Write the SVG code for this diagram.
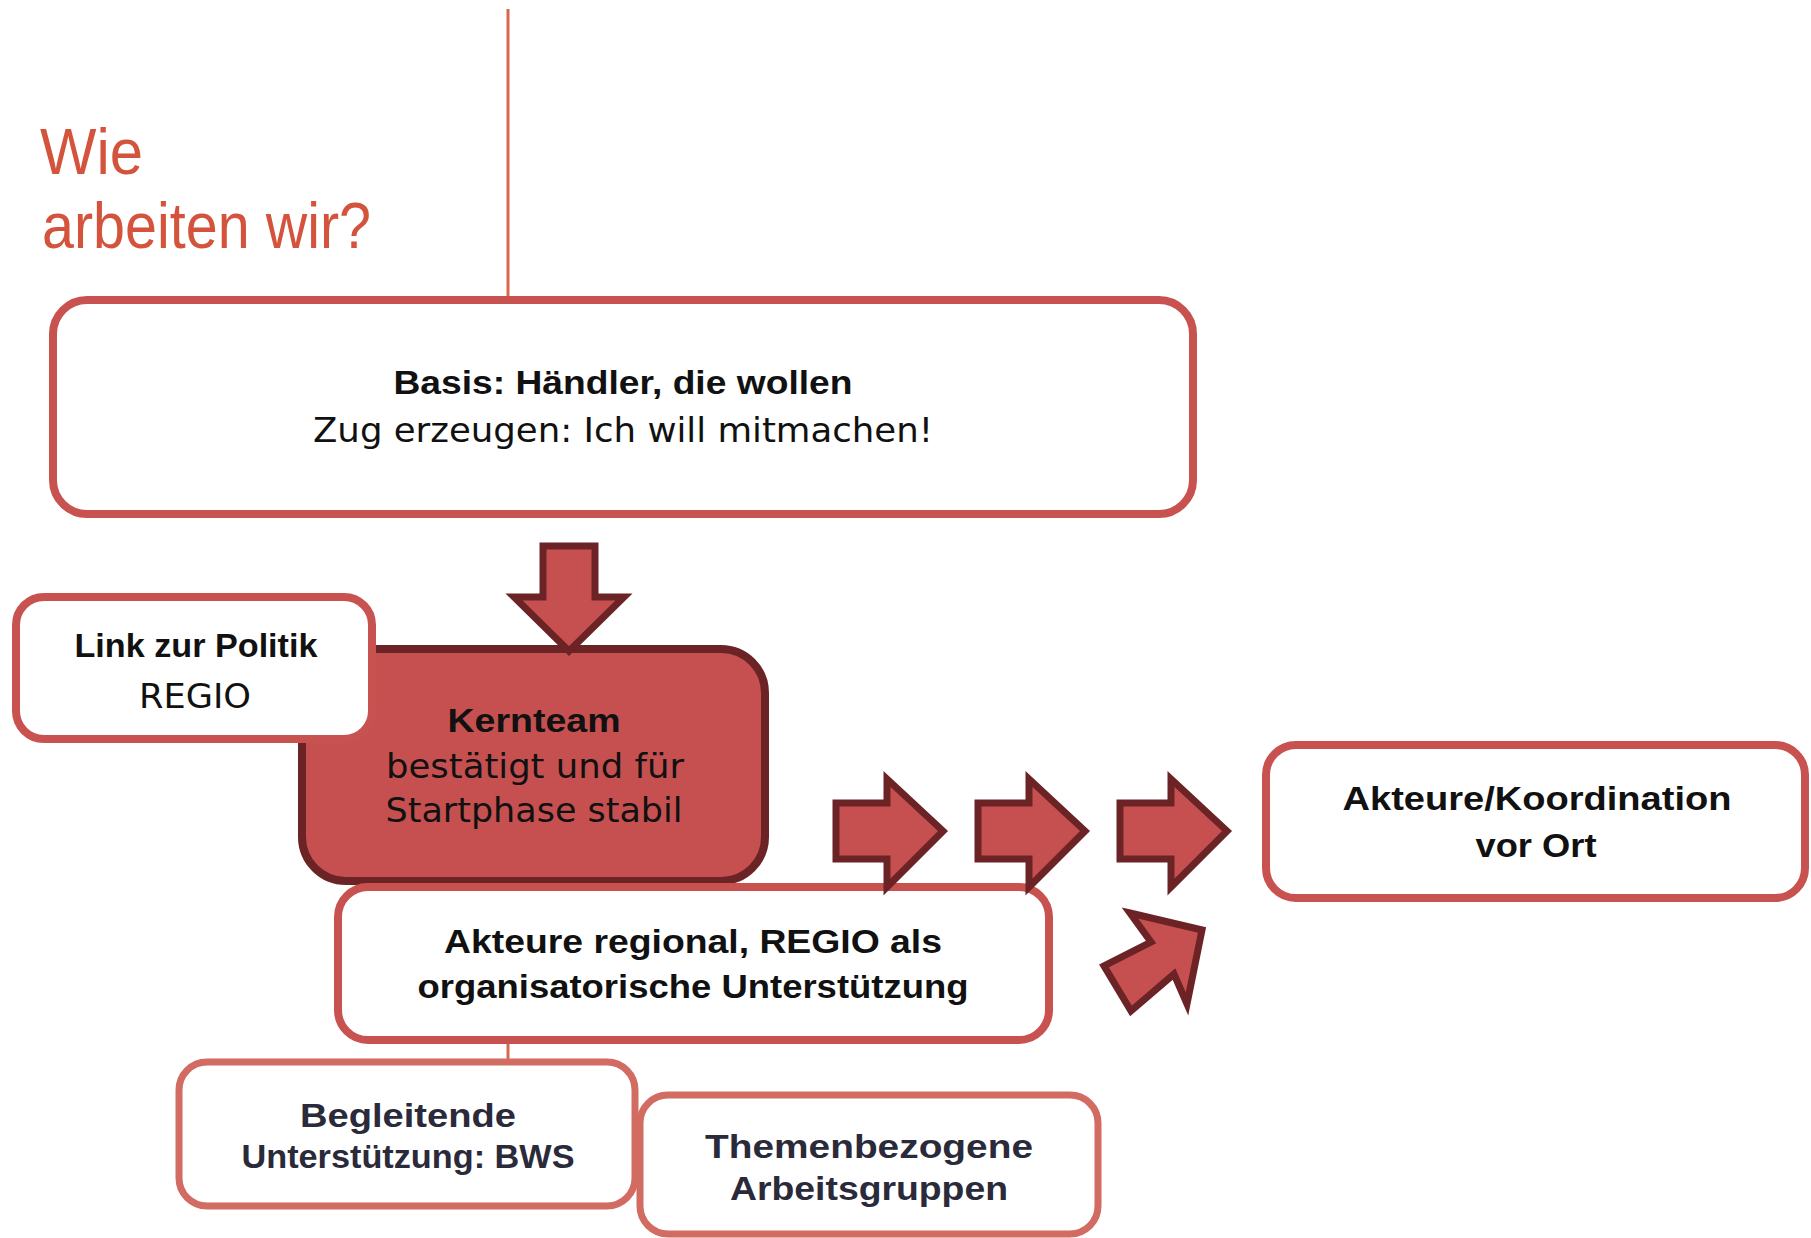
<svg xmlns="http://www.w3.org/2000/svg" width="1811" height="1238" viewBox="0 0 1811 1238">
<style>
.bg{fill:#ffffff}
.box{fill:#ffffff;stroke:#C8524F;stroke-width:8}
.box2{fill:#ffffff;stroke:#D26B62;stroke-width:7}
.core{fill:#C65050;stroke:#6B2326;stroke-width:8}
.arr{fill:#C65050;stroke:#6B2326;stroke-width:7;stroke-linejoin:miter;stroke-miterlimit:10}
.conn{stroke:#D9674D;stroke-width:3;fill:none}
.title{font-family:"Liberation Sans",Arial,sans-serif;font-size:64px;fill:#D4533C}
.b{font-family:"Liberation Sans",Arial,sans-serif;font-weight:bold;font-size:33px;fill:#111111;text-anchor:middle}
.r{font-family:"DejaVu Sans","Liberation Sans",sans-serif;font-size:33px;fill:#111111;text-anchor:middle}
.n{fill:#2A2A3A}
</style>
<rect class="bg" x="0" y="0" width="1811" height="1238"/>
<g id="title">
<text class="title" x="40" y="174" textLength="103" lengthAdjust="spacingAndGlyphs">Wie</text>
<text class="title" x="42" y="248" textLength="329" lengthAdjust="spacingAndGlyphs">arbeiten wir?</text>
</g>
<g id="connectors">
<line class="conn" x1="508" y1="9" x2="508" y2="298"/>
<line class="conn" x1="508" y1="1042" x2="508" y2="1062"/>
</g>
<g id="basis">
<rect class="box" x="53" y="300" width="1140" height="214" rx="34"/>
<text class="b" x="623" y="394" textLength="459" lengthAdjust="spacingAndGlyphs">Basis: Händler, die wollen</text>
<text class="r" x="623" y="442" textLength="620" lengthAdjust="spacingAndGlyphs">Zug erzeugen: Ich will mitmachen!</text>
</g>
<g id="kernteam">
<rect class="core" x="302" y="649" width="463" height="232" rx="44"/>
<text class="b" x="534" y="732" textLength="173" lengthAdjust="spacingAndGlyphs">Kernteam</text>
<text class="r" x="535" y="778" textLength="298" lengthAdjust="spacingAndGlyphs">bestätigt und für</text>
<text class="r" x="534" y="822" textLength="297" lengthAdjust="spacingAndGlyphs">Startphase stabil</text>
</g>
<g id="link-politik">
<rect class="box" x="16" y="597" width="356" height="142" rx="28"/>
<text class="b" x="196" y="657" textLength="243" lengthAdjust="spacingAndGlyphs">Link zur Politik</text>
<text class="r" x="195" y="708" textLength="112" lengthAdjust="spacingAndGlyphs">REGIO</text>
</g>
<g id="akteure-regional">
<rect class="box" x="338" y="887" width="711" height="153" rx="30"/>
<text class="b" x="693" y="953" textLength="498" lengthAdjust="spacingAndGlyphs">Akteure regional, REGIO als</text>
<text class="b" x="693" y="998" textLength="551" lengthAdjust="spacingAndGlyphs">organisatorische Unterstützung</text>
</g>
<g id="akteure-vor-ort">
<rect class="box" x="1266" y="745" width="539" height="153" rx="30"/>
<text class="b" x="1537" y="810" textLength="389" lengthAdjust="spacingAndGlyphs">Akteure/Koordination</text>
<text class="b" x="1536" y="857" textLength="121" lengthAdjust="spacingAndGlyphs">vor Ort</text>
</g>
<g id="begleitende">
<rect class="box2" x="179" y="1062" width="456" height="144" rx="28"/>
<text class="b n" x="408" y="1127" textLength="216" lengthAdjust="spacingAndGlyphs">Begleitende</text>
<text class="b n" x="408" y="1168" textLength="333" lengthAdjust="spacingAndGlyphs">Unterstützung: BWS</text>
</g>
<g id="themen">
<rect class="box2" x="640" y="1095" width="458" height="139" rx="28"/>
<text class="b n" x="869" y="1158" textLength="328" lengthAdjust="spacingAndGlyphs">Themenbezogene</text>
<text class="b n" x="869" y="1200" textLength="278" lengthAdjust="spacingAndGlyphs">Arbeitsgruppen</text>
</g>
<g id="arrows">
<polygon class="arr" points="543,546 595,546 595,597 624,597 569,651 514,597 543,597"/>
<polygon class="arr" points="836,803 887,803 887,779 943,831 887,887 887,859 836,859"/>
<polygon class="arr" transform="translate(142,0)" points="836,803 887,803 887,779 943,831 887,887 887,859 836,859"/>
<polygon class="arr" transform="translate(284,0)" points="836,803 887,803 887,779 943,831 887,887 887,859 836,859"/>
<polygon class="arr" points="1130,913 1202,930 1187,1004 1174,974 1131,1011 1104,966 1151,942"/>
</g>
</svg>
